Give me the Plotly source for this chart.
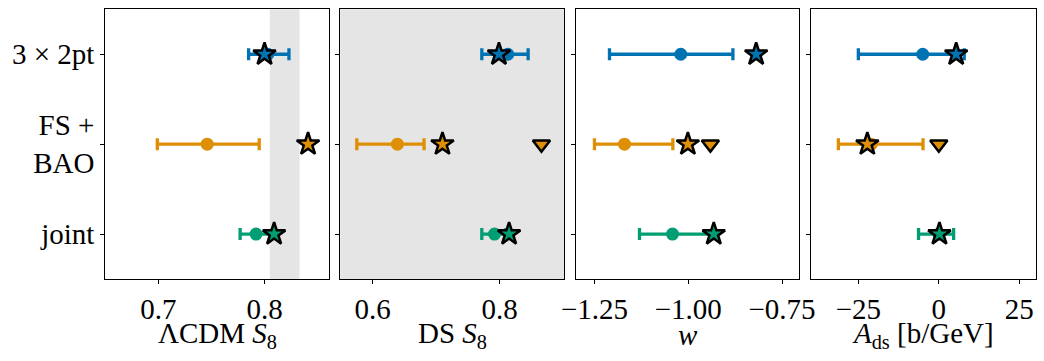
import plotly.graph_objects as go
from plotly.subplots import make_subplots

# rows, top to bottom
categories = ["3 × 2pt", "FS +<br>BAO", "joint"]
colors = ["#0173B2", "#DE8F05", "#029E73"]

# panel 1: LCDM S8
lcdm_mean = [0.803, 0.746, 0.792]
lcdm_lo = [0.785, 0.699, 0.777]
lcdm_hi = [0.823, 0.795, 0.808]
lcdm_star = [0.800, 0.841, 0.809]
lcdm_tri = [None, None, None]
lcdm_band = [0.805, 0.833]

# panel 2: DS S8
ds_mean = [0.813, 0.639, 0.792]
ds_lo = [0.772, 0.575, 0.772]
ds_hi = [0.845, 0.681, 0.810]
ds_star = [0.799, 0.710, 0.815]
ds_tri = [None, 0.866, None]

# panel 3: w
w_mean = [-1.020, -1.170, -1.042]
w_lo = [-1.210, -1.250, -1.130]
w_hi = [-0.881, -1.041, -0.935]
w_star = [-0.819, -1.001, -0.932]
w_tri = [None, -0.941, None]

# panel 4: A_ds
a_mean = [-5.0, -21.0, 0.0]
a_lo = [-25.0, -31.2, -6.3]
a_hi = [7.9, -4.9, 4.6]
a_star = [5.4, -22.2, 0.2]
a_tri = [None, 0.0, None]

panels = [
    (lcdm_mean, lcdm_lo, lcdm_hi, lcdm_star, lcdm_tri, [0.650, 0.861], [0.7, 0.8], ["0.7", "0.8"],
     "ΛCDM <i>S</i><sub>8</sub>"),
    (ds_mean, ds_lo, ds_hi, ds_star, ds_tri, [0.549, 0.902], [0.6, 0.8], ["0.6", "0.8"],
     "DS <i>S</i><sub>8</sub>"),
    (w_mean, w_lo, w_hi, w_star, w_tri, [-1.30, -0.704], [-1.25, -1.0, -0.75], ["−1.25", "−1.00", "−0.75"],
     "<i>w</i>"),
    (a_mean, a_lo, a_hi, a_star, a_tri, [-39.8, 30.1], [-25, 0, 25], ["−25", "0", "25"],
     "<i>A</i><sub>ds</sub> [b/GeV]"),
]

W, H = 1044, 361
xdom_px = [(105.3, 329.3), (340.3, 564.3), (575.7, 799.3), (810.7, 1035.7)]
ydom = [1 - 279 / H, 1 - 9.3 / H]
font = "Liberation Serif"
fs = 29

fig = make_subplots(rows=1, cols=4)

for i, (mean, lo, hi, star, tri, xr, tv, tt, title) in enumerate(panels):
    col = i + 1
    for j, cat in enumerate(categories):
        c = colors[j]
        fig.add_trace(go.Scatter(
            x=[mean[j]], y=[j], mode="markers",
            marker=dict(color=c, size=13),
            error_x=dict(type="data", symmetric=False,
                         array=[hi[j] - mean[j]], arrayminus=[mean[j] - lo[j]],
                         color=c, thickness=3.3, width=6),
            showlegend=False, hoverinfo="x"), row=1, col=col)
        fig.add_trace(go.Scatter(
            x=[star[j]], y=[j], mode="markers",
            marker=dict(color=c, size=17, symbol="star",
                        line=dict(color="black", width=2.5)),
            showlegend=False, hoverinfo="x"), row=1, col=col)
        if tri[j] is not None:
            fig.add_trace(go.Scatter(
                x=[tri[j]], y=[j], mode="markers",
                marker=dict(color=c, size=15, symbol="triangle-down",
                            line=dict(color="black", width=2.5)),
                showlegend=False, hoverinfo="x"), row=1, col=col)

    x0, x1 = xdom_px[i]
    xa = "xaxis" if i == 0 else f"xaxis{col}"
    ya = "yaxis" if i == 0 else f"yaxis{col}"
    fig.layout[xa].update(
        domain=[x0 / W, x1 / W], range=xr, tickvals=tv, ticktext=tt,
        showgrid=False, zeroline=False, showline=True, mirror=True,
        linecolor="black", linewidth=1.2, ticks="outside", ticklen=4,
        tickcolor="black", tickfont=dict(family=font, size=fs, color="black"),
        automargin=False)
    fig.layout[ya].update(
        domain=ydom, range=[2.5, -0.5], tickvals=[0, 1, 2],
        ticktext=categories if i == 0 else ["", "", ""],
        showgrid=False, zeroline=False, showline=True, mirror=True,
        linecolor="black", linewidth=1.2, ticks="outside", ticklen=4,
        tickcolor="black", tickfont=dict(family=font, size=fs, color="black"),
        automargin=False)
    # axis title as an annotation so its height can be pinned
    fig.add_annotation(text=title, xref="paper", yref="paper",
                       x=(x0 + x1) / 2 / W, y=1 - 335 / H, xanchor="center", yanchor="middle",
                       showarrow=False, font=dict(family=font, size=fs, color="black"))

# grey constraint bands
fig.add_shape(type="rect", xref="x", yref="y domain", x0=lcdm_band[0], x1=lcdm_band[1],
              y0=0, y1=1, fillcolor="#e5e5e5", line_width=0, layer="below")
fig.add_shape(type="rect", xref="x2 domain", yref="y2 domain", x0=0, x1=1,
              y0=0, y1=1, fillcolor="#e5e5e5", line_width=0, layer="below")

fig.update_layout(
    width=W, height=H, margin=dict(l=0, r=0, t=0, b=0),
    plot_bgcolor="white", paper_bgcolor="white",
    font=dict(family=font, color="black"),
)

fig.write_html("out.html", config={"displayModeBar": False},
               post_script="document.body.style.margin='0';")
